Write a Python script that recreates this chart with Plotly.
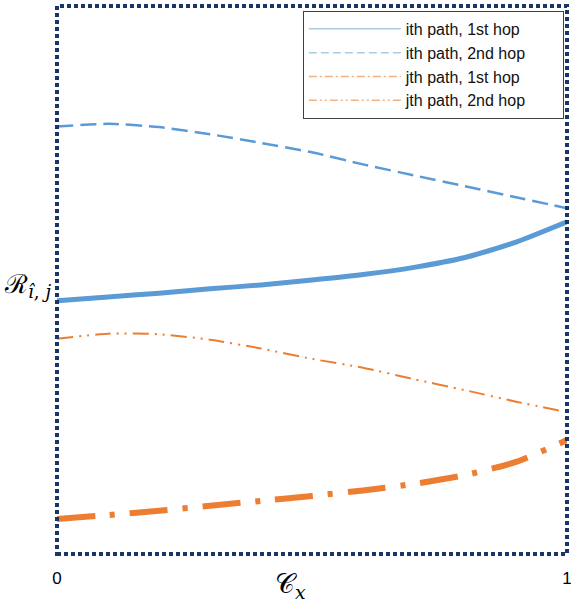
import plotly.graph_objects as go

# ---- data ----
cx = [0.0, 0.1, 0.2, 0.3, 0.4, 0.5, 0.6, 0.7, 0.8, 0.9, 1.0]
ith_1st = [0.462, 0.469, 0.476, 0.484, 0.491, 0.500, 0.510, 0.523, 0.541, 0.569, 0.606]
ith_2nd = [0.780, 0.785, 0.779, 0.766, 0.750, 0.733, 0.711, 0.691, 0.671, 0.651, 0.631]
jth_1st = [0.064, 0.071, 0.079, 0.088, 0.097, 0.106, 0.116, 0.128, 0.144, 0.168, 0.208]
jth_2nd = [0.393, 0.402, 0.401, 0.391, 0.375, 0.356, 0.340, 0.319, 0.299, 0.278, 0.259]
legend_names = ["ith path, 1st hop", "ith path, 2nd hop", "jth path, 1st hop", "jth path, 2nd hop"]
x_ticks = [0, 1]
x_ticktext = ["0", "1"]

BLUE = "#5B9BD5"
ORANGE = "#ED7D31"
LBLUE = "#A9CCE3"
LORANGE = "#F4B183"
NAVY = "#1B3566"

fig = go.Figure()

sm = 0.6
# plotted curves (not in legend)
fig.add_trace(go.Scatter(x=cx, y=ith_2nd, mode="lines", line_shape="spline",
                         line=dict(color=BLUE, width=2.5, dash="16px,7px", smoothing=sm), showlegend=False))
fig.add_trace(go.Scatter(x=cx, y=ith_1st, mode="lines", line_shape="spline",
                         line=dict(color=BLUE, width=5, smoothing=sm), showlegend=False))
fig.add_trace(go.Scatter(x=cx, y=jth_2nd, mode="lines", line_shape="spline",
                         line=dict(color=ORANGE, width=2, dash="16px,6px,2px,6px,2px,6px", smoothing=sm),
                         showlegend=False))
fig.add_trace(go.Scatter(x=cx, y=jth_1st, mode="lines", line_shape="spline",
                         line=dict(color=ORANGE, width=6, dash="38px,15px,5px,15px", smoothing=sm),
                         showlegend=False))

# legend entries (thin, light samples as in the reference)
leg_styles = [
    dict(color=LBLUE, width=1.5, dash="solid"),
    dict(color=LBLUE, width=1.5, dash="8px,4px"),
    dict(color=LORANGE, width=1.5, dash="8px,3px,2px,3px"),
    dict(color=LORANGE, width=1.5, dash="8px,3px,2px,3px,2px,3px"),
]
pad = "\u00a0" * 7
for name, st in zip(legend_names, leg_styles):
    fig.add_trace(go.Scatter(x=[None], y=[None], mode="lines", name=name + pad, line=st, showlegend=True))

# dotted frame
fig.add_shape(type="rect", xref="paper", yref="paper", x0=0, x1=1, y0=0, y1=1,
              line=dict(color=NAVY, width=4, dash="4px,3px"), layer="above")

fig.add_annotation(text="𝒞<sub><i>x</i></sub>", xref="paper", yref="paper", x=0.457, y=-0.058,
                   xanchor="center", yanchor="middle", showarrow=False,
                   font=dict(family="DejaVu Serif", size=27, color="#000000"))
fig.add_annotation(text="ℛ<sub><i>î</i>, <i>j</i></sub>", xref="paper", yref="paper", x=-0.058, y=0.49,
                   xanchor="center", yanchor="middle", showarrow=False,
                   font=dict(family="DejaVu Serif", size=26, color="#000000"))

fig.update_layout(
    width=571, height=609,
    margin=dict(l=57, r=4, t=6, b=55, autoexpand=False),
    paper_bgcolor="white", plot_bgcolor="white",
    showlegend=True,
    legend=dict(x=0.482, y=0.991, xanchor="left", yanchor="top",
                bgcolor="white", bordercolor="#404040", borderwidth=1,
                font=dict(family="Liberation Sans", size=16, color="#111111"),
                itemwidth=92, tracegroupgap=0),
    xaxis=dict(range=[0, 1], showgrid=False, zeroline=False, showline=False,
               tickvals=x_ticks, ticktext=x_ticktext, ticks="", automargin=False,
               ticklabelstandoff=12, ticklabeloverflow="allow",
               tickfont=dict(family="Liberation Sans", size=17, color="#000000")),
    yaxis=dict(range=[0, 1], showgrid=False, zeroline=False, showline=False,
               showticklabels=False, ticks="", automargin=False),
)

fig.write_html("out.html")
